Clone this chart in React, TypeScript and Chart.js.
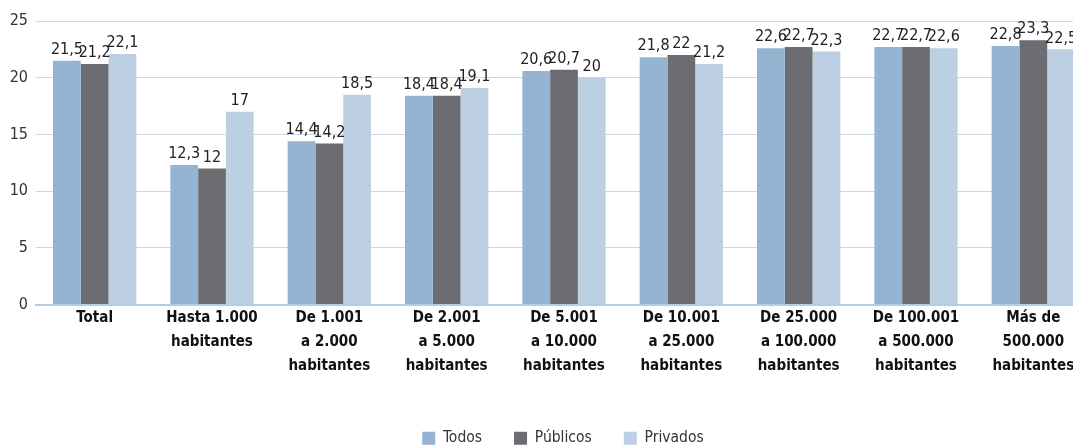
import React, { useEffect, useRef } from "react";
import { Chart, registerables } from "chart.js";

Chart.register(...registerables);

const categories: string[][] = [
  ["Total"],
  ["Hasta 1.000", "habitantes"],
  ["De 1.001", "a 2.000", "habitantes"],
  ["De 2.001", "a 5.000", "habitantes"],
  ["De 5.001", "a 10.000", "habitantes"],
  ["De 10.001", "a 25.000", "habitantes"],
  ["De 25.000", "a 100.000", "habitantes"],
  ["De 100.001", "a 500.000", "habitantes"],
  ["Más de", "500.000", "habitantes"],
];
const todos = [21.5, 12.3, 14.4, 18.4, 20.6, 21.8, 22.6, 22.7, 22.8];
const publicos = [21.2, 12, 14.2, 18.4, 20.7, 22, 22.7, 22.7, 23.3];
const privados = [22.1, 17, 18.5, 19.1, 20, 21.2, 22.3, 22.6, 22.5];
const seriesNames = ["Todos", "Públicos", "Privados"];
const yTicks = [0, 5, 10, 15, 20, 25];

const FONT = "'DejaVu Sans Condensed', 'Liberation Sans', Arial, sans-serif";

const valueLabels = {
  id: "valueLabels",
  afterDatasetsDraw(chart: any) {
    const ctx = chart.ctx;
    ctx.save();
    ctx.font = `16px ${FONT}`;
    ctx.fillStyle = "#222222";
    ctx.textAlign = "center";
    ctx.textBaseline = "bottom";
    chart.data.datasets.forEach((ds: any, i: number) => {
      const meta = chart.getDatasetMeta(i);
      meta.data.forEach((el: any, j: number) => {
        const v = ds.data[j];
        ctx.fillText(String(v).replace(".", ","), el.x, el.y - 3);
      });
    });
    ctx.restore();
  },
};

const legendShift = {
  id: "legendShift",
  afterLayout(chart: any) {
    if (chart.legend) {
      chart.legend.left += 13;
      chart.legend.right += 13;
    }
  },
};

export default function App() {
  const ref = useRef<HTMLCanvasElement>(null);
  useEffect(() => {
    if (!ref.current) return;
    const chart = new Chart(ref.current, {
      type: "bar",
      data: {
        labels: categories,
        datasets: [
          { label: seriesNames[0], data: todos, backgroundColor: "#95b4d2" },
          { label: seriesNames[1], data: publicos, backgroundColor: "#6c6d72" },
          { label: seriesNames[2], data: privados, backgroundColor: "#bdcfe2" },
        ],
      },
      options: {
        responsive: false,
        animation: false,
        layout: { padding: { top: 13, right: 34, left: 0, bottom: 0 } },
        datasets: { bar: { categoryPercentage: 0.71, barPercentage: 1 } },
        plugins: {
          legend: {
            position: "bottom",
            labels: {
              boxWidth: 13,
              boxHeight: 13,
              padding: 32,
              color: "#333333",
              font: { family: FONT, size: 15.5 },
            },
          },
          tooltip: { enabled: false },
        },
        scales: {
          x: {
            grid: { display: false, drawTicks: false },
            border: { display: true, color: "#b8cce1", width: 2 },
            ticks: {
              color: "#111111",
              font: { family: FONT, size: 15, weight: "bold", lineHeight: 1.6 },
              padding: 2,
              maxRotation: 0,
              autoSkip: false,
            },
            afterFit: (s: any) => {
              s.height = 94;
            },
          },
          y: {
            min: 0,
            max: 25,
            afterBuildTicks: (s: any) => {
              s.ticks = yTicks.map((v) => ({ value: v }));
            },
            grid: { color: "#c9d7e6", lineWidth: 1, drawTicks: false },
            border: { display: false },
            ticks: {
              color: "#333333",
              font: { family: FONT, size: 16 },
              padding: 8,
            },
            afterFit: (s: any) => {
              s.width = 28;
              s.paddingTop = 0;
            },
          },
        },
      },
      plugins: [valueLabels, legendShift],
    });
    return () => chart.destroy();
  }, []);
  return (
    <div style={{ width: 1073, height: 437, overflow: "hidden" }}>
      <canvas ref={ref} width={1118} height={448} style={{ display: "block" }} />
    </div>
  );
}
